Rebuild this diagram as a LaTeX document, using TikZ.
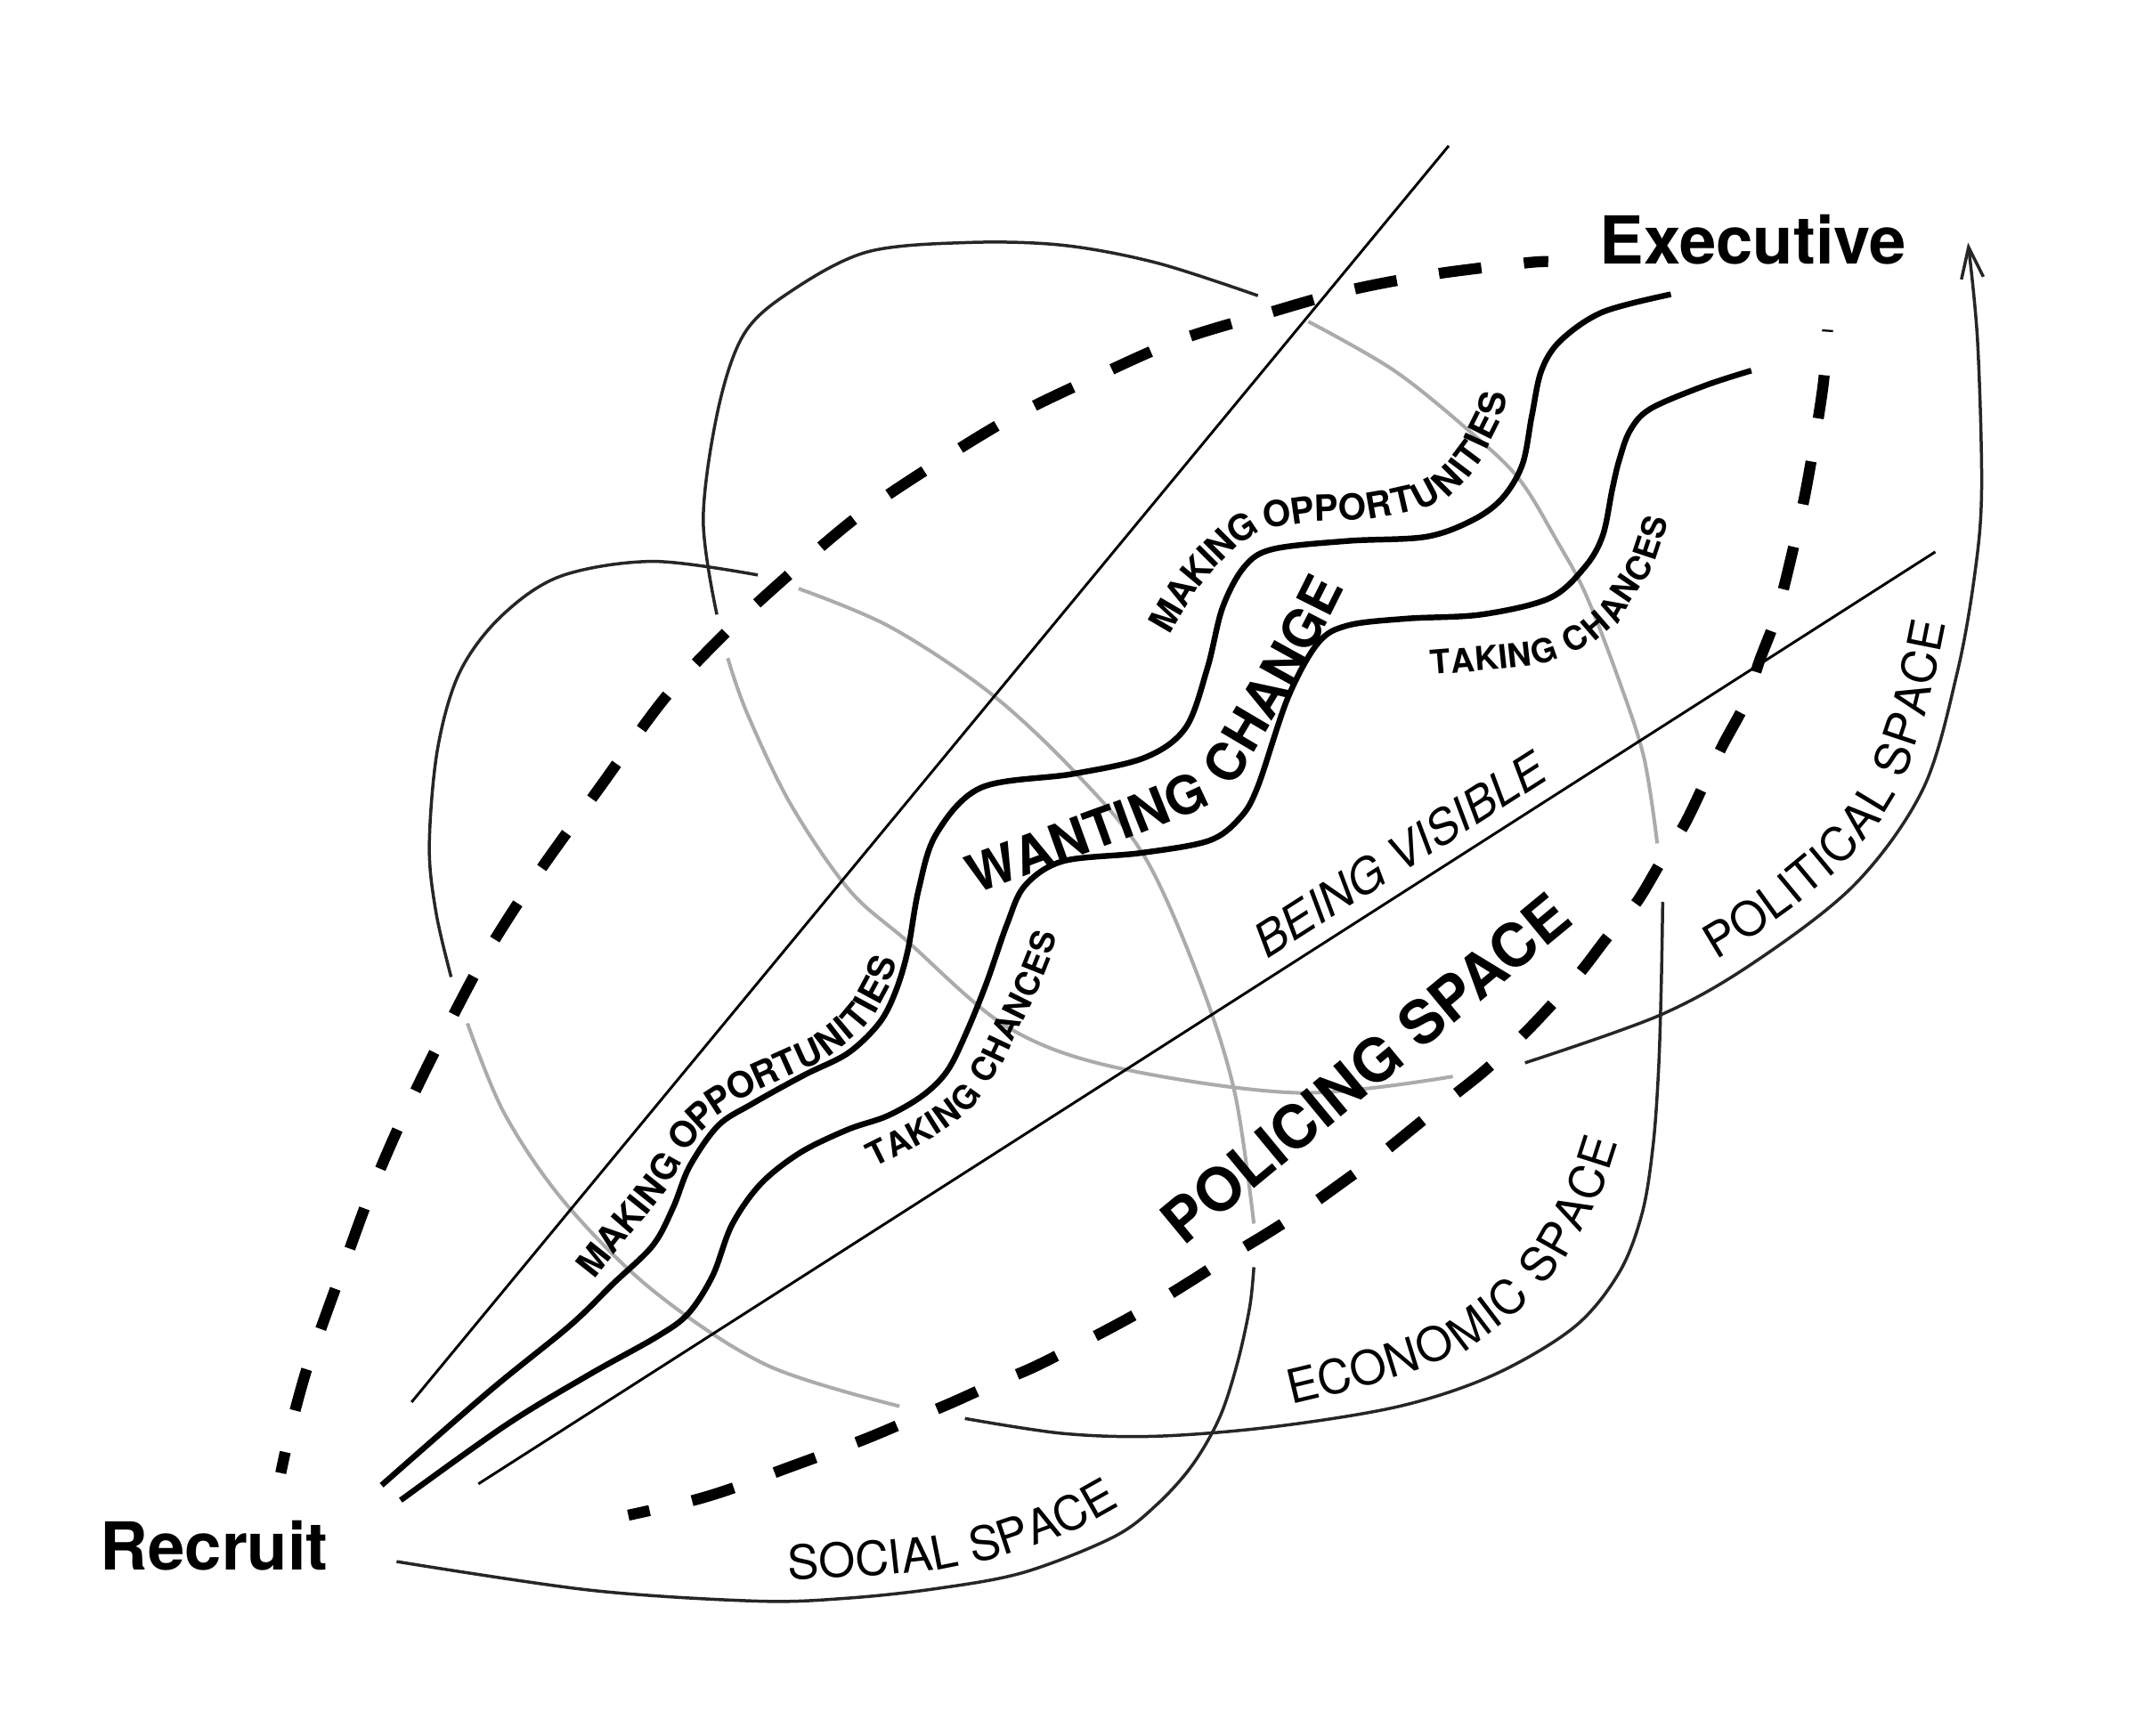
\documentclass[tikz,border=0pt]{standalone}
\usepackage{fontspec}
\setmainfont{TeX Gyre Heros}
\usetikzlibrary{decorations.text,arrows.meta}
\newcommand\fExec{\bfseries\fontsize{13.8pt}{16pt}\selectfont}
\newcommand\fMO{\bfseries\fontsize{7.5pt}{9pt}\selectfont}
\newcommand\fTC{\bfseries\fontsize{6.9pt}{8pt}\selectfont}
\newcommand\fWC{\bfseries\fontsize{11pt}{13pt}\selectfont}
\newcommand\fPS{\bfseries\fontsize{12.5pt}{15pt}\selectfont}
\newcommand\fSP{\fontsize{9.8pt}{12pt}\selectfont}
\newcommand\fBV{\itshape\fontsize{9.8pt}{12pt}\selectfont}
\begin{document}
\begin{tikzpicture}[x=0.01cm,y=-0.01cm,
  behind/.style={draw=black!33,line width=0.75pt},
  front/.style={draw=black!85,line width=0.65pt},
  rule/.style={draw=black,line width=0.55pt},
  wave/.style={draw=black,line width=1.2pt},
  track/.style={draw=black,line width=2.3pt,dash pattern=on 9.1pt off 9.1pt,dash phase=4.55pt}
]
\useasboundingbox (0,0) rectangle (1568,1274);

% ---- space curve: parts passing behind (grey)
\draw[behind] plot[smooth,tension=0.55] coordinates {(920,898) (906,802) (880,719) (840,629) (790,568) (727,509) (653,460) (586,432)};
\draw[behind] plot[smooth,tension=0.55] coordinates {(343,751) (370,817) (414,882) (479,947) (563,1002) (660,1032)};
\draw[behind] plot[smooth,tension=0.55] coordinates {(1216,619) (1206,555) (1186,494) (1163,435) (1143,398) (1115,352) (1080,318) (1023,272) (960,236)};
\draw[behind] plot[smooth,tension=0.55] coordinates {(534,483) (548,523) (580,590) (623,653) (666,691) (738,753) (817,783) (952,802) (1066,790)};

% ---- straight rules
\coordinate (a1) at (302,1029); \coordinate (a2) at (1063,107);
\coordinate (b1) at (351,1089); \coordinate (b2) at (1420,405);
\draw[rule] (a1) -- (a2);
\draw[rule] (b1) -- (b2);

% ---- wavy lines
\draw[wave] plot[smooth,tension=0.55] coordinates {(280,1090) (359,1021) (418,973) (450,942) (479,914) (494,886) (506,856) (527,826) (552,810) (590,789) (622,773) (645,751) (657,728) (666,698) (674,653) (687,612) (720,578) (787,568) (840,556) (870,534) (886,490) (897,446) (913,416) (934,403) (989,397) (1046,394) (1080,382) (1102,366) (1117,341) (1124,305) (1131,272) (1145,250) (1176,229) (1226,216)};
\draw[wave] plot[smooth,tension=0.55] coordinates {(294,1101) (371,1046) (432,1009) (482,981) (505,964) (523,936) (537,899) (558,869) (587,846) (622,829) (651,819) (677,804) (695,786) (709,758) (724,721) (739,678) (752,650) (780,632) (837,626) (887,617) (910,600) (923,577) (945,512) (967,472) (989,459) (1032,454) (1087,451) (1137,439) (1163,416) (1176,393) (1183,359) (1188,338) (1196,316) (1211,300) (1251,283) (1285,272)};

% ---- space curve: parts in front
\draw[front] plot[smooth,tension=0.55] coordinates {(291,1146) (433,1167) (555,1175) (620,1173) (686,1166) (751,1154) (817,1128) (849,1104) (875,1075) (895,1040) (908,1000) (917,959) (920,930)};
\draw[front] plot[smooth,tension=0.55] coordinates {(556,422) (479,412) (411,423) (367,453) (337,494) (321,550) (315,621) (320,670) (331,717)};
\draw[front] plot[smooth,tension=0.55] coordinates {(708,1041) (780,1052) (849,1054) (935,1047) (1027,1032) (1096,1009) (1155,974) (1188,934) (1205,890) (1213,840) (1217,784) (1219,720) (1220,662)};
\draw[front] plot[smooth,tension=0.55] coordinates {(923,217) (849,193) (780,180) (710,178) (636,185) (580,214) (546,245) (527,300) (516,381) (526,451)};
\draw[front,-{Straight Barb[length=6.5pt,width=4.6pt]}] plot[smooth,tension=0.55] coordinates {(1119,780) (1218,745) (1286,707) (1361,649) (1411,579) (1436,494) (1449,421) (1454,359) (1451,250) (1444,178)};

% ---- dashed tracks
\draw[track,dash pattern=on 8.92pt off 8.92pt,dash phase=4.46pt] plot[smooth,tension=0.55] coordinates {(206,1081) (214,1045) (225,1005) (238,968) (250,935) (272,875) (298,815) (327,756) (358,698) (394,642) (440,578) (488,512) (533,464) (582,419) (632,377) (687,340) (743,306) (803,277) (864,250) (926,231) (990,213) (1054,201) (1119,193) (1136,192)};
\draw[track] plot[smooth,tension=0.55] coordinates {(461,1112) (509,1101) (541,1091) (573,1079) (603,1068) (635,1056) (666,1043) (697,1030) (726,1017) (757,1004) (787,989) (816,974) (843,959) (874,940) (902,922) (930,905) (958,887) (986,867) (1012,848) (1038,827) (1064,806) (1089,786) (1115,762) (1137,739) (1160,713) (1180,687) (1201,662) (1219,632) (1236,605) (1251,574) (1264,547) (1281,515) (1291,485) (1303,453) (1314,410) (1324,365) (1332,320) (1338,280) (1341,242)};

% ---- labels along paths (polyline guides)
\path[decorate,decoration={text along path,text align=center,raise=-2.7pt,text={|\fMO|MAKING OPPORTUNITIES}}] plot coordinates {(803,547) (822,512) (842,475) (856,451) (870,428) (885,410) (900,395) (915,385) (930,378) (965,373) (1000,372) (1023,368) (1045,363) (1060,355) (1070,345) (1079,333) (1085,320) (1091,308) (1095,296) (1100,262) (1106,222) (1110,190)};
\path[decorate,decoration={text along path,text align=center,raise=-2.7pt,text={|\fMO|MAKING OPPORTUNITIES}}] plot coordinates {(380,993) (405,962) (425,938) (440,919) (455,900) (468,885) (480,870) (490,852) (500,835) (512,820) (525,808) (542,797) (560,788) (580,779) (600,770) (613,760) (625,750) (635,738) (642,725) (647,710) (650,695) (654,665) (659,625)};
\path[decorate,decoration={text along path,text align=center,raise=-2.5pt,text={|\fTC|TAKING CHANCES}}] plot coordinates {(578,873) (615,858) (644,846) (660,838) (675,830) (691,820) (706,809) (714,798) (721,786) (731,770) (739,753) (747,737) (755,720) (761,705) (765,691) (772,660) (781,621)};
\path[decorate,decoration={text along path,text align=center,raise=-2.5pt,text={|\fTC|TAKING CHANCES}}] plot coordinates {(1000,490) (1055,486) (1092,483) (1129,479) (1152,471) (1168,461) (1183,448) (1192,432) (1205,413) (1213,389) (1220,362) (1225,330)};
\path[decorate,decoration={text along path,text align=center,raise=-3.96pt,text={|\fWC|WANTING CHANGE}}] plot coordinates {(651,666) (688,652) (725,638) (760,625) (796,612) (832,599) (867,585) (884,577) (896,566) (905,550) (918,528) (935,500) (951,471) (967,440) (985,404) (1003,368)};
\path[decorate,decoration={text along path,text align=center,text={|\fSP|SOCIAL SPACE}}] plot coordinates {(530,1160) (587,1159) (650,1156) (695,1151) (730,1144) (760,1134) (782,1126) (800,1117) (816,1108) (830,1097) (858,1072)};
\path[decorate,decoration={text along path,text align=center,raise=-3.5pt,text={|\fSP|ECONOMIC SPACE}}] plot coordinates {(880,1032) (909,1024) (952,1017) (994,1007) (1036,994) (1075,977) (1100,958) (1122,937) (1139,915) (1152,892) (1163,871) (1171,849) (1179,824) (1184,798) (1190,770)};
\path[decorate,decoration={text along path,text align=center,raise=-3.5pt,text={|\fSP|POLITICAL SPACE}}] plot coordinates {(1160,740) (1207,719) (1240,702) (1270,684) (1306,658) (1341,629) (1366,600) (1386,567) (1399,528) (1409,487) (1416,452) (1421,417) (1426,352)};

% ---- straight labels
\node[rotate=39.6,inner sep=0pt,font=\fPS] (policing) at (1002,784) {POLICING SPACE};
\node[rotate=32.6,inner sep=0pt,font=\fBV] (visible) at (1027,627) {BEING VISIBLE};

% ---- end points
\node[anchor=base west,inner sep=0pt,font=\fExec] (exec) at (1173,194) {Executive};
\node[anchor=base west,inner sep=0pt,font=\fExec] (recruit) at (73,1152) {Recruit};
\end{tikzpicture}
\end{document}
